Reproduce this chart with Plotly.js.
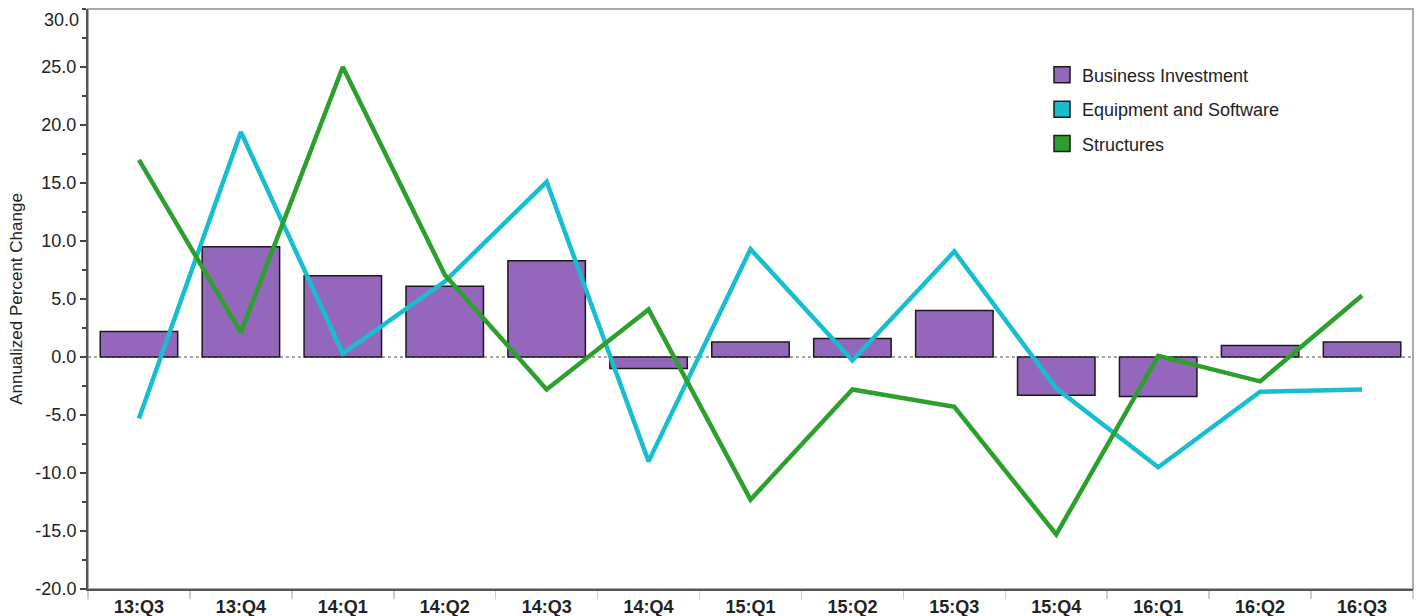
<!DOCTYPE html>
<html><head><meta charset="utf-8">
<script src="https://cdn.plot.ly/plotly-3.0.1.min.js"></script>
<style>html,body{margin:0;padding:0;background:#fff}#chart{width:1421px;height:616px}</style>
</head><body><div id="chart"></div>
<script>
const categories = ["13:Q3","13:Q4","14:Q1","14:Q2","14:Q3","14:Q4","15:Q1","15:Q2","15:Q3","15:Q4","16:Q1","16:Q2","16:Q3"];
const businessInvestment = [2.2, 9.5, 7.0, 6.1, 8.3, -1.0, 1.3, 1.6, 4.0, -3.3, -3.4, 1.0, 1.3];
const equipmentSoftware = [-5.3, 19.4, 0.3, 6.5, 15.1, -9.0, 9.3, -0.3, 9.1, -2.7, -9.5, -3.0, -2.8];
const structures = [17.0, 2.1, 25.0, 7.1, -2.8, 4.1, -12.3, -2.8, -4.3, -15.3, 0.1, -2.1, 5.3];
const seriesNames = ["Business Investment", "Equipment and Software", "Structures"];
const colors = ["#9467bd", "#17becf", "#2ca02c"];
const yTickVals = [-20, -15, -10, -5, 0, 5, 10, 15, 20, 25, 30];
const yTickLabels = ["-20.0", "-15.0", "-10.0", "-5.0", "0.0", "5.0", "10.0", "15.0", "20.0", "25.0", "30.0"];

const n = yTickVals.length;
const traces = [
  {type:"bar", x:categories, y:businessInvestment, name:seriesNames[0], showlegend:false,
   marker:{color:colors[0], line:{color:"#1a1a1a", width:1.5}}, width:0.76},
  {type:"scatter", mode:"lines", x:categories, y:equipmentSoftware, name:seriesNames[1], showlegend:false,
   line:{color:colors[1], width:4.5}},
  {type:"scatter", mode:"lines", x:categories, y:structures, name:seriesNames[2], showlegend:false,
   line:{color:colors[2], width:4.5}}
];
seriesNames.forEach((nm,i)=>{
  traces.push({type:"scatter", mode:"markers", x:[null], y:[null], name:nm, legendgroup:"g"+i,
    marker:{symbol:"square", size:20, color:colors[i], line:{color:"#1a1a1a", width:1.5}}});
});

const layout = {
  width:1421, height:616,
  margin:{l:88, r:8, t:9, b:27},
  paper_bgcolor:"#fff", plot_bgcolor:"#fff",
  font:{family:"Liberation Sans, Arial, sans-serif", size:18, color:"#222"},
  bargap:0.24,
  xaxis:{type:"category", range:[-0.5,12.5], showgrid:false, zeroline:false,
    showline:true, linecolor:"#555", linewidth:2,
    ticks:"outside", tickson:"boundaries", ticklen:8, tickcolor:"#ccc", tickwidth:1.5,
    tickfont:{family:"Liberation Sans, Arial, sans-serif", size:18, color:"#222", weight:"bold"}},
  yaxis:{range:[-20,30], tickmode:"array", tickvals:yTickVals.slice(0, n-1), ticktext:yTickLabels.slice(0, n-1),
    showgrid:false, zeroline:false,
    showline:true, linecolor:"#555", linewidth:2,
    ticks:"outside", ticklen:6, tickcolor:"#444", tickwidth:1.5,
    minor:{tickmode:"linear", tick0:0, dtick:2.5, ticks:"outside", ticklen:4, tickcolor:"#444", tickwidth:1.5},
    tickfont:{size:18, color:"#222"},
    title:{text:"Annualized Percent Change", font:{size:17, color:"#222"}, standoff:8}},
  legend:{x:0.72, y:0.918, xanchor:"left", yanchor:"top", traceorder:"grouped", tracegroupgap:8,
    font:{size:18, color:"#222"}, bgcolor:"rgba(0,0,0,0)"},
  annotations:[
    {xref:"paper", yref:"y", x:0, y:yTickVals[n-1], text:yTickLabels[n-1], showarrow:false,
     xanchor:"right", yanchor:"middle", xshift:-7, yshift:-11, font:{size:18, color:"#222"}}
  ],
  shapes:[
    {type:"rect", xref:"paper", yref:"paper", x0:0, x1:1, y0:0, y1:1, line:{color:"#aaa", width:2}, layer:"below"},
    {type:"line", xref:"paper", yref:"y", x0:0, x1:1, y0:0, y1:0, line:{color:"#888", width:1.5, dash:"dot"}, layer:"below"}
  ]
};
Plotly.newPlot("chart", traces, layout, {displayModeBar:false, staticPlot:true});
</script></body></html>
